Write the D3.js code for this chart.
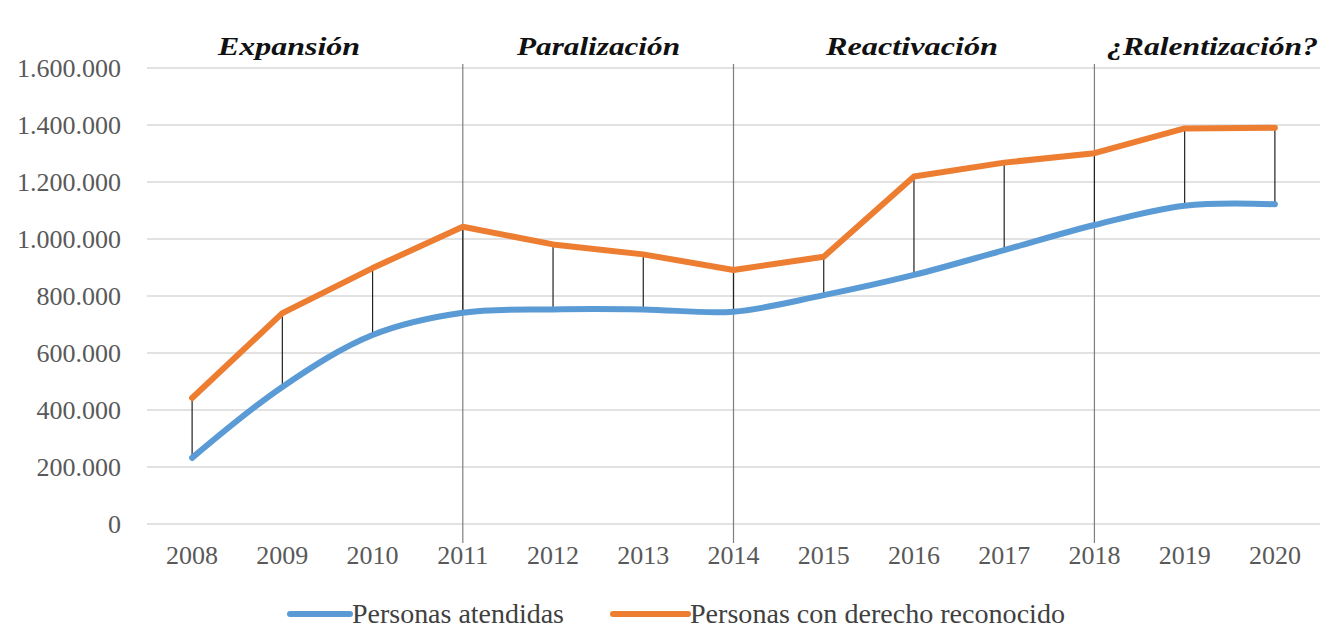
<!DOCTYPE html>
<html><head><meta charset="utf-8">
<script src="https://cdn.jsdelivr.net/npm/d3@7/dist/d3.min.js"></script>
<style>body{margin:0;background:#fff}svg{display:block}
.serif{font-family:"Liberation Serif","Times New Roman",Times,"DejaVu Serif",serif}
.title{font-family:"Liberation Serif","Times New Roman",Times,serif;font-weight:bold;font-style:italic}
</style>
</head><body>
<svg id="c" width="1321" height="628"></svg>
<script>
const years = ["2008","2009","2010","2011","2012","2013","2014","2015","2016","2017","2018","2019","2020"];
const atendidas = [232000,481000,663000,741000,753000,753000,745000,803000,874000,961000,1049000,1117000,1122000];
const reconocido = [442000,740000,898000,1043000,981000,946000,891000,938000,1219000,1268000,1301000,1388000,1390000];
const yTicks = [0,200000,400000,600000,800000,1000000,1200000,1400000,1600000];
const phases = [
  {label:"Expansión", from:"2008", to:"2011"},
  {label:"Paralización", from:"2011", to:"2014"},
  {label:"Reactivación", from:"2014", to:"2018"},
  {label:"¿Ralentización?", from:"2018", to:"2020"}
];
const dividers = ["2011","2014","2018"];
const seriesNames = ["Personas atendidas","Personas con derecho reconocido"];
const colors = ["#5B9BD5","#ED7D31"];

const svg = d3.select("#c");
const pLeft = 147, pRight = 1320, pTop = 68, pBottom = 524;
const x = d3.scalePoint().domain(years).range([pLeft, pRight]).padding(0.5);
const y = d3.scaleLinear().domain([0,1600000]).range([pBottom, pTop]);
const fmt = v => d3.format(",")(v).replace(/,/g, ".");

// gridlines
svg.append("g").selectAll("line").data(yTicks).join("line")
  .attr("x1", pLeft).attr("x2", pRight)
  .attr("y1", d => y(d)).attr("y2", d => y(d))
  .attr("stroke", "#d9d9d9").attr("stroke-width", 1.3);

// y labels
svg.append("g").selectAll("text").data(yTicks).join("text")
  .attr("class","serif")
  .attr("x", 121).attr("y", d => y(d) + 9)
  .attr("text-anchor", "end")
  .attr("font-size", 26)
  .attr("fill", "#595959").text(d => fmt(d));

// x labels
svg.append("g").selectAll("text").data(years).join("text")
  .attr("class","serif")
  .attr("x", d => x(d)).attr("y", 564)
  .attr("text-anchor", "middle")
  .attr("font-size", 26)
  .attr("fill", "#595959").text(d => d);

// phase dividers
svg.append("g").selectAll("line").data(dividers).join("line")
  .attr("x1", d => x(d)).attr("x2", d => x(d))
  .attr("y1", 64).attr("y2", 543)
  .attr("stroke", "#7f7f7f").attr("stroke-width", 1.2);

// drop lines (high-low)
svg.append("g").selectAll("line").data(years).join("line")
  .attr("x1", d => x(d)).attr("x2", d => x(d))
  .attr("y1", (d,i) => y(reconocido[i])).attr("y2", (d,i) => y(atendidas[i]))
  .attr("stroke", "#222").attr("stroke-width", 1.2);

// lines
const lineSmooth = d3.line().x((d,i) => x(years[i])).y(d => y(d)).curve(d3.curveCatmullRom.alpha(0.5));
const lineStraight = d3.line().x((d,i) => x(years[i])).y(d => y(d));
svg.append("path").attr("d", lineSmooth(atendidas))
  .attr("fill","none").attr("stroke", colors[0]).attr("stroke-width", 6).attr("stroke-linecap","round").attr("stroke-linejoin","round");
svg.append("path").attr("d", lineStraight(reconocido))
  .attr("fill","none").attr("stroke", colors[1]).attr("stroke-width", 6).attr("stroke-linecap","round").attr("stroke-linejoin","round");

// phase titles
const titlePos = [[218,142],[517,163],[826,172],[1107,211]];
svg.append("g").selectAll("text").data(phases).join("text")
  .attr("class","title")
  .attr("x", (d,i) => titlePos[i][0]).attr("y", 55)
  .attr("textLength", (d,i) => titlePos[i][1]).attr("lengthAdjust","spacingAndGlyphs")
  .attr("font-size", 25)
  .attr("fill", "#111").text(d => d.label);

// legend
const leg = [
  {lx1:290, lx2:350, tx:352, tw:212},
  {lx1:613, lx2:688, tx:690, tw:375}
];
seriesNames.forEach((n,i) => {
  svg.append("line").attr("x1", leg[i].lx1).attr("x2", leg[i].lx2)
    .attr("y1", 614).attr("y2", 614)
    .attr("stroke", colors[i]).attr("stroke-width", 6).attr("stroke-linecap","round");
  svg.append("text").attr("class","serif").attr("x", leg[i].tx).attr("y", 623)
    .attr("textLength", leg[i].tw).attr("lengthAdjust","spacingAndGlyphs")
    .attr("font-size", 27)
    .attr("fill", "#404040").text(n);
});
</script>
</body></html>
